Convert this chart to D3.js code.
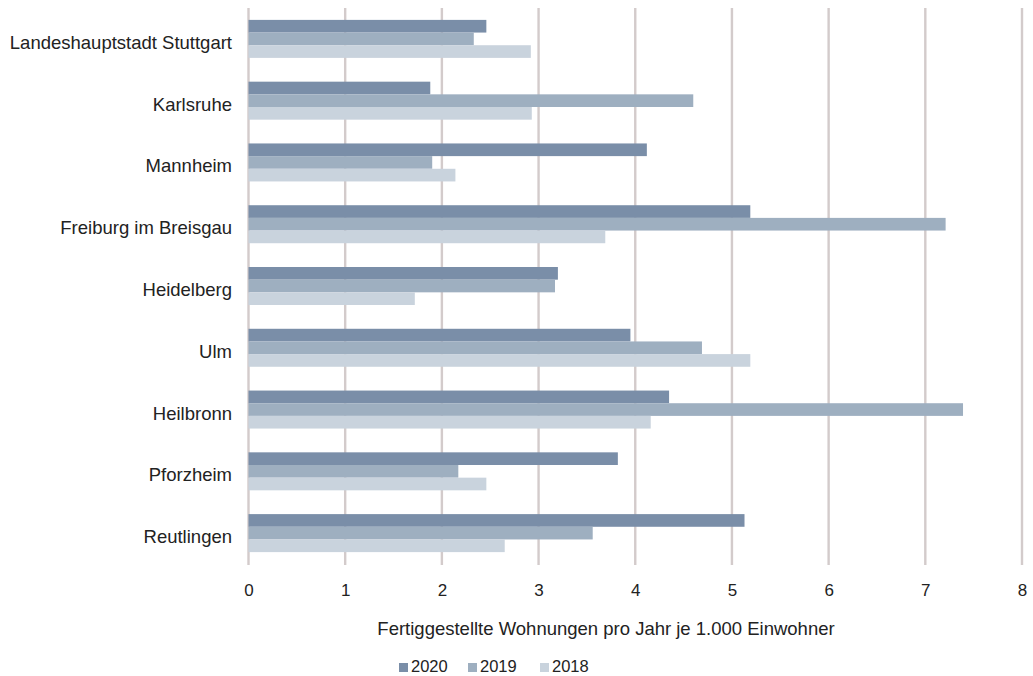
<!DOCTYPE html>
<html>
<head>
<meta charset="utf-8">
<script src="https://cdn.jsdelivr.net/npm/d3@7"></script>
<style>
  html, body { margin: 0; padding: 0; background: #fff; }
  svg { display: block; font-family: "Liberation Sans", Arial, sans-serif; }
</style>
</head>
<body>
<svg id="chart" width="1033" height="676"></svg>
<script>
const categories = ["Landeshauptstadt Stuttgart", "Karlsruhe", "Mannheim", "Freiburg im Breisgau", "Heidelberg", "Ulm", "Heilbronn", "Pforzheim", "Reutlingen"];
const seriesNames = ["2020", "2019", "2018"];
const values2020 = [2.46, 1.88, 4.12, 5.19, 3.20, 3.95, 4.35, 3.82, 5.13];
const values2019 = [2.33, 4.60, 1.90, 7.21, 3.17, 4.69, 7.39, 2.17, 3.56];
const values2018 = [2.92, 2.93, 2.14, 3.69, 1.72, 5.19, 4.16, 2.46, 2.65];
const xTicks = [0, 1, 2, 3, 4, 5, 6, 7, 8];
const xTitle = "Fertiggestellte Wohnungen pro Jahr je 1.000 Einwohner";
const colors = ["#7a8ea8", "#9eafc0", "#c9d3dd"];

const seriesValues = [values2020, values2019, values2018];
const svg = d3.select("#chart");

const x = d3.scaleLinear().domain([0, 8]).range([248.5, 1022]);
const y = d3.scaleBand().domain(categories).range([8, 564]).paddingInner(0.385).paddingOuter(0.1925);
const ySub = d3.scaleBand().domain(seriesNames).range([0, y.bandwidth()]);

// grid lines
svg.append("g").selectAll("line").data(xTicks).join("line")
  .attr("x1", d => x(d)).attr("x2", d => x(d))
  .attr("y1", 8).attr("y2", 565)
  .attr("stroke", "#d3cbcb").attr("stroke-width", 2.4);

// bars
const groups = svg.append("g").selectAll("g").data(categories).join("g")
  .attr("transform", d => `translate(0,${y(d)})`);
groups.selectAll("rect")
  .data((c, i) => seriesNames.map((s, k) => ({ s, k, v: seriesValues[k][i] })))
  .join("rect")
  .attr("x", x(0))
  .attr("y", d => ySub(d.s))
  .attr("width", d => x(d.v) - x(0))
  .attr("height", ySub.bandwidth())
  .attr("fill", d => colors[d.k]);

// category labels
svg.append("g").selectAll("text").data(categories).join("text")
  .attr("x", 232)
  .attr("y", d => y(d) + y.bandwidth() / 2 + 10)
  .attr("text-anchor", "end")
  .attr("font-size", 18.5)
  .attr("fill", "#222")
  .text(d => d);

// x axis tick labels
const xAxis = d3.axisBottom(x).tickValues(xTicks).tickSize(0).tickPadding(0).tickFormat(d3.format("d"));
const gx = svg.append("g").attr("transform", "translate(0,580)").call(xAxis);
gx.select(".domain").remove();
gx.selectAll("text").attr("font-size", 17).attr("fill", "#222")
  .attr("font-family", "Liberation Sans, Arial, sans-serif").attr("dy", "0.95em");

// axis title
svg.append("text")
  .attr("x", 606).attr("y", 635)
  .attr("text-anchor", "middle")
  .attr("font-size", 18.5)
  .attr("fill", "#222")
  .text(xTitle);

// legend
const legendX = [399, 468, 540];
const lg = svg.append("g").selectAll("g").data(seriesNames).join("g")
  .attr("transform", (d, i) => `translate(${legendX[i]},0)`);
lg.append("rect").attr("x", 0).attr("y", 663).attr("width", 9).attr("height", 9)
  .attr("fill", (d, i) => colors[i]);
lg.append("text").attr("x", 12).attr("y", 672).attr("font-size", 16.5).attr("fill", "#222").text(d => d);
</script>
</body>
</html>
